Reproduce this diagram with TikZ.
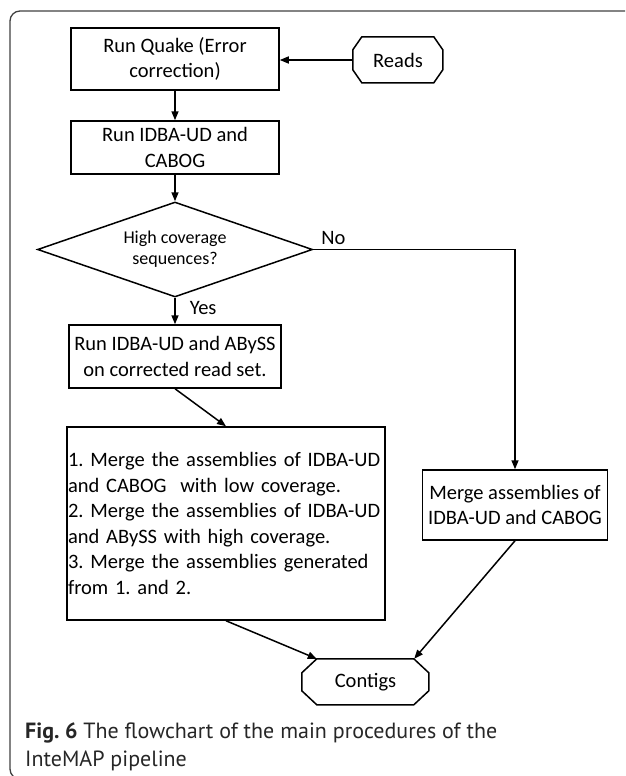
\documentclass[tikz,border=0pt]{standalone}
\usepackage{fontspec}
\setmainfont{Carlito}
\newfontfamily\capfont{PT Sans}
\usetikzlibrary{arrows.meta,shapes.geometric,calc}
\frenchspacing
\begin{document}
\begin{tikzpicture}[x=1pt,y=-1pt,
  box/.style={draw, line width=1.5pt, inner sep=0pt, align=center, font=\fontsize{20.5}{25.5}\selectfont},
  dec/.style={diamond, draw, line width=1.5pt, inner sep=0pt, shape aspect=2.9, minimum width=275pt, minimum height=95pt, align=center, font=\fontsize{18}{21}\selectfont},
  octo/.style={inner sep=0pt, align=center, font=\fontsize{20.5}{25}\selectfont},
  octoline/.style={line width=1.5pt},
  arr/.style={line width=1.5pt, -{Triangle[length=9pt,width=7pt]}},
  lbl/.style={font=\fontsize{20.5}{25}\selectfont, inner sep=0pt},
  caption/.style={font=\capfont\fontsize{22}{28}\selectfont, inner sep=0pt, text=black!85},
  frame/.style={line width=1.3pt, black!75, rounded corners=10pt}
]
\useasboundingbox (0,0) rectangle (625,776);
\begin{scope}
  \clip (0,0) rectangle (625,776);
  \draw[frame] (10,11) rectangle (660,779);
\end{scope}

\node[box, minimum width=208pt, minimum height=62pt] (b1) at (175,59) {Run Quake (Error\\correction)};
\node[box, minimum width=208pt, minimum height=53pt] (b2) at (175,147.5) {Run IDBA-UD and\\CABOG};
\node[dec] (dm) at (175,249.5) {High coverage\\sequences?};
\node[box, minimum width=212pt, minimum height=63pt] (b3) at (175,356.5) {Run IDBA-UD and ABySS\\on corrected read set.};
\node[box, minimum width=318pt, minimum height=193pt, text width=316pt, align=left] (b4) at (226,523.5)
  {1. Merge the assemblies of IDBA-UD\\and CABOG\ \ with low coverage.\\2. Merge the assemblies of IDBA-UD\\and ABySS with high coverage.\\3. Merge the assemblies generated\\from 1. and 2.};
\node[box, minimum width=185pt, minimum height=70pt] (b5) at (515,505) {Merge assemblies of\\IDBA-UD and CABOG};
\node[octo, minimum width=90pt, minimum height=46pt] (rd) at (398,60) {Reads};
\node[octo, minimum width=127pt, minimum height=46pt] (ct) at (365.5,682) {Contigs};

\draw[octoline] (rd.north west) ++(9,0) -- ++(72,0) -- ++(9,13) -- ++(0,20) -- ++(-9,13) -- ++(-72,0) -- ++(-9,-13) -- ++(0,-20) -- cycle;
\draw[octoline] (ct.north west) ++(15,0) -- ++(97,0) -- ++(15,14) -- ++(0,18) -- ++(-15,14) -- ++(-97,0) -- ++(-15,-14) -- ++(0,-18) -- cycle;

\draw[arr] (rd.west) -- (rd.west -| b1.east);
\draw[arr] (b1.south) -- (b2.north);
\draw[arr] (b2.south) -- (dm.north);
\draw[arr] (dm.south) -- (b3.north) node[lbl, pos=0.38, anchor=west, xshift=14pt] (yes) {Yes};
\draw[arr] (dm.east) -| (b5.north);
\node[lbl, anchor=west] (no) at ($(dm.east)+(8,-12)$) {No};
\draw[arr] (b3.south) -- (b4.north);
\draw[arr] (b4.south) -- ($(ct.north west)+(15,0)$);
\draw[arr] (b5.south) -- ($(ct.north east)+(-15,0)$);

\node[caption, anchor=base west] (cap1) at (25,738) {\textbf{Fig. 6} The flowchart of the main procedures of the};
\node[caption, anchor=base west] (cap2) at (25,766) {InteMAP pipeline};
\end{tikzpicture}
\end{document}
